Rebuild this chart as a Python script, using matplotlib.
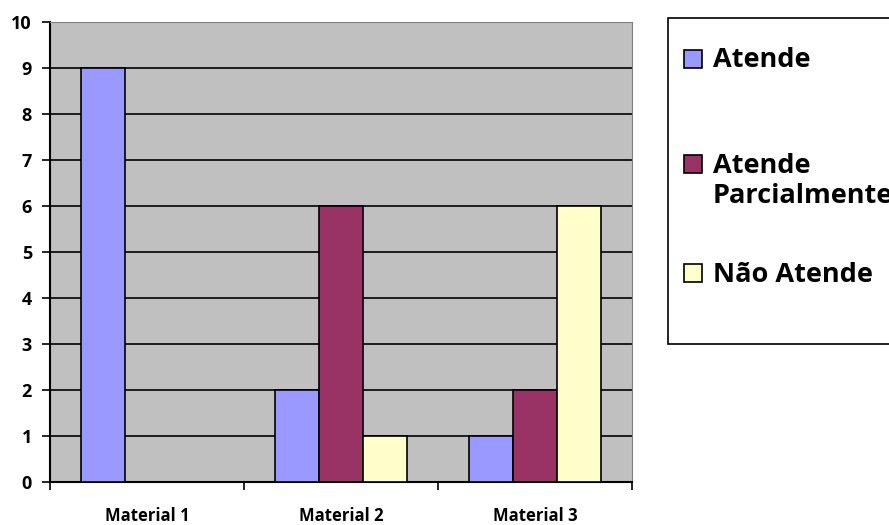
import numpy as np
import matplotlib.pyplot as plt
from matplotlib.patches import Rectangle

plt.rcParams['font.family'] = ['Open Sans', 'DejaVu Sans']
plt.rcParams['font.weight'] = 'bold'

materials = ['Material 1', 'Material 2', 'Material 3']
series_names = ['Atende', 'Atende\nParcialmente', 'Não Atende']
atende = [9, 2, 1]
parcial = [0, 6, 2]
nao_atende = [0, 1, 6]
colors = ['#9999FF', '#993366', '#FFFFCC']

fig = plt.figure(figsize=(8.89, 5.25), dpi=100)
ax = fig.add_axes([50 / 889, 43 / 525, 582 / 889, 460 / 525])
ax.set_facecolor('#C0C0C0')

x = np.arange(len(materials))
w = 0.227
for i, (vals, c) in enumerate(zip([atende, parcial, nao_atende], colors)):
    ax.bar(x + (i - 1) * w, vals, w, color=c, edgecolor='black', linewidth=1.2, zorder=3)

ax.set_ylim(0, 10)
ax.set_xlim(-0.5, 2.5)
ax.set_yticks(range(0, 11))
ax.yaxis.grid(True, color='black', linewidth=1.2, zorder=1)
ax.set_axisbelow(True)

# category ticks sit on the group boundaries, labels under the centres
ax.set_xticks([-0.5, 0.5, 1.5, 2.5])
ax.set_xticklabels([])
ax.set_xticks(x, minor=True)
ax.set_xticklabels(materials, minor=True, fontsize=12, fontweight='bold')
ax.tick_params(axis='x', which='minor', length=0, pad=18)
ax.tick_params(axis='x', which='major', length=6, width=1.2, direction='out')
ax.tick_params(axis='y', length=6, width=1.2, labelsize=13, pad=7)
for lab in ax.get_yticklabels():
    lab.set_fontweight('bold')

ax.spines['left'].set_linewidth(1.5)
ax.spines['bottom'].set_linewidth(1.5)
ax.spines['top'].set_color('#808080')
ax.spines['right'].set_color('#808080')

# legend box drawn by hand so it can run off the right edge
fig.patches.append(Rectangle((668 / 889, 1 - 344 / 525), 240 / 889, 326 / 525,
                             transform=fig.transFigure, facecolor='white',
                             edgecolor='black', linewidth=1.2, zorder=0))
label_y = [60, 181, 275]
square_y = [59, 164, 273]
for name, c, yy, sy in zip(series_names, colors, label_y, square_y):
    fig.patches.append(Rectangle((684 / 889, 1 - (sy + 9) / 525), 18 / 889, 18 / 525,
                                 transform=fig.transFigure, facecolor=c,
                                 edgecolor='black', linewidth=1.2))
    fig.text(713 / 889, 1 - yy / 525, name, fontsize=19.5, fontweight='bold',
             va='center', ha='left', linespacing=1.2)

fig.savefig('out.png', dpi=100)
